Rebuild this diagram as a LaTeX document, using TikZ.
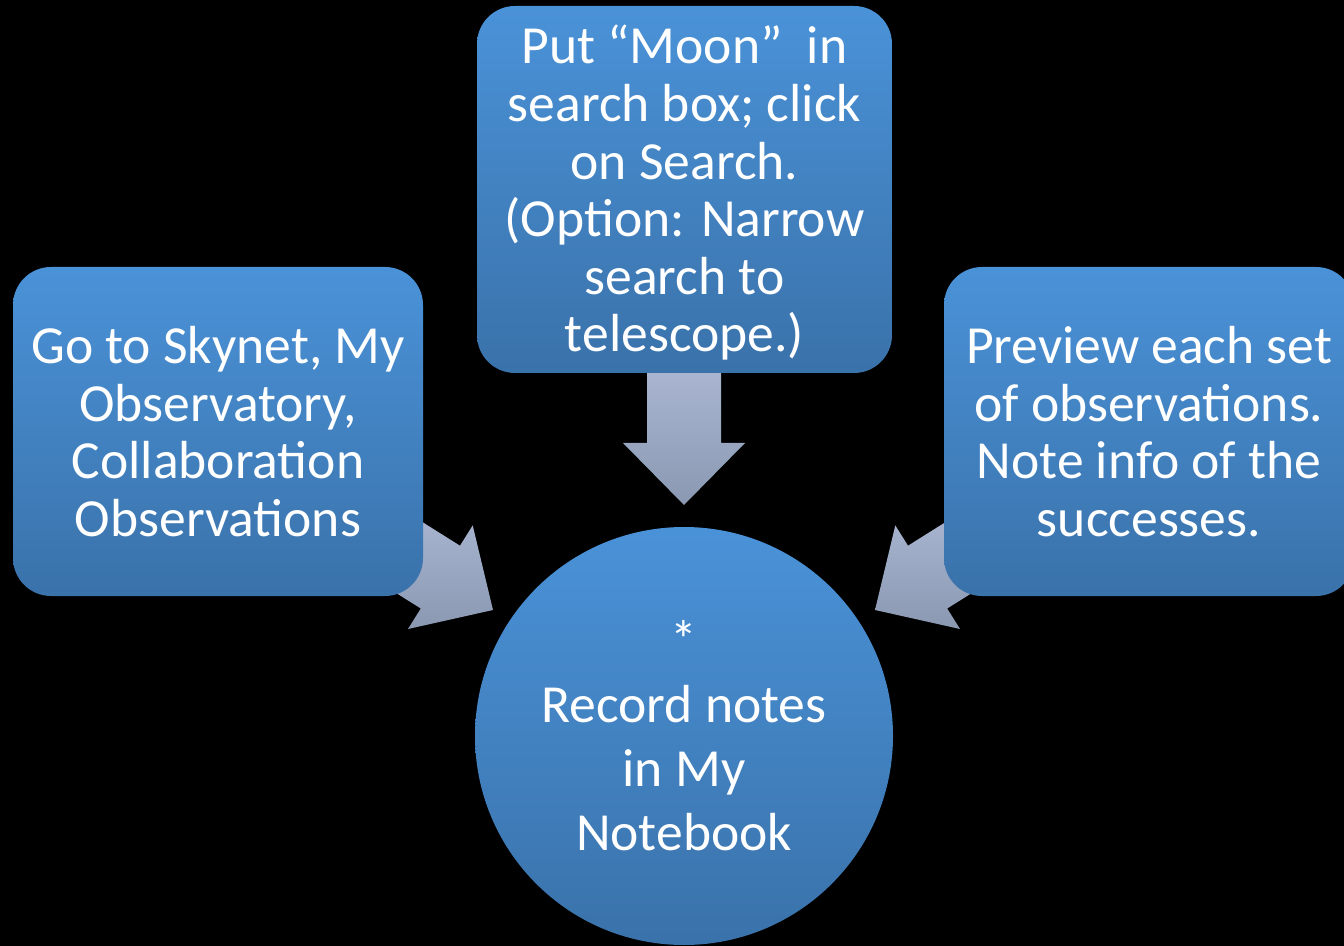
\documentclass[tikz,border=0pt]{standalone}
\usepackage{fontspec}
\setmainfont{Carlito}

\definecolor{boxtop}{RGB}{74,146,216}
\definecolor{boxbot}{RGB}{58,114,170}
\definecolor{arrtop}{RGB}{172,184,211}
\definecolor{arrbot}{RGB}{138,152,178}

\tikzset{
  stepbox/.style={rectangle, rounded corners=19pt, top color=boxtop, bottom color=boxbot,
    text=white, align=center, inner sep=0pt, font=\fontsize{26.8}{28.8}\selectfont},
  goalcirc/.style={circle, minimum size=209pt, top color=boxtop, bottom color=boxbot,
    text=white, align=center, inner sep=0pt, font=\fontsize{26.8}{32}\selectfont},
  blockarr/.style={top color=arrtop, bottom color=arrbot, draw=none}
}

\begin{document}
\begin{tikzpicture}[x=0.5pt,y=-0.5pt]
\fill[black] (0,0) rectangle (1344,946);
\useasboundingbox (0,0) rectangle (1344,946);

% arrows first, the boxes cover their tails
\coordinate (tipdown) at (684,505);
\coordinate (tipleft) at (493,610);
\coordinate (tipright) at (875,610);
\fill[blockarr] (tipdown) -- (623,443) -- (647,443) -- (647,360) -- (721,360)
    -- (721,443) -- (745,443) -- cycle;
\fill[blockarr] (tipleft) -- (472.7,525.4) -- (460,545.7) -- (392,503) -- (353,566)
    -- (420.8,608.5) -- (408,629) -- cycle;
\fill[blockarr] (tipright) -- (895.3,525.4) -- (908,545.7) -- (976,503) -- (1015,566)
    -- (947.2,608.5) -- (960,629) -- cycle;

% the steps
\node[stepbox, minimum width=207.5pt, minimum height=183.5pt, text depth=1pt] (search) at (684.5,189.5)
  {Put “Moon”\ \ in\\ search box; click\\ on Search.\\ (Option: Narrow\\ search to\\ telescope.)};
\node[stepbox, minimum width=205pt, minimum height=164.5pt] (skynet) at (218,431.5)
  {Go to Skynet, My\\ Observatory,\\ Collaboration\\ Observations};
\node[stepbox, minimum width=205pt, minimum height=164.5pt] (preview) at (1149,431.5)
  {Preview each set\\ of observations.\\ Note info of the\\ successes.};

\node[goalcirc] (notes) at (684,736) {*\\ Record notes\\ in My\\ Notebook};
\end{tikzpicture}
\end{document}
